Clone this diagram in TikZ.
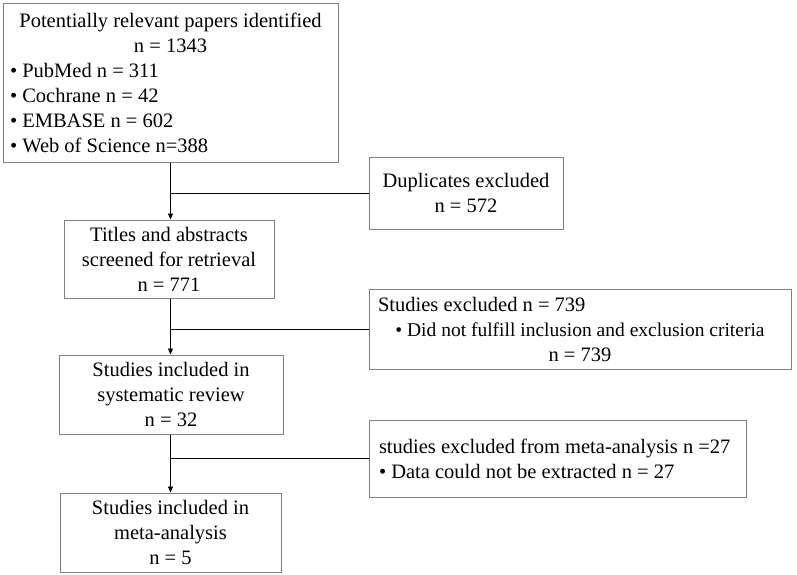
\documentclass[tikz,border=0pt]{standalone}
\usepackage{fontspec}
\setmainfont{Liberation Serif}
\usetikzlibrary{arrows.meta}
\newcommand\lrow[2]{\makebox[#1][l]{#2}}
\tikzset{
  box/.style={draw=gray, line width=1pt, inner sep=0pt, font=\fontsize{20.5}{25}\selectfont, align=center},
  link/.style={line width=0.9pt},
  arr/.style={link, -{Triangle[width=5pt,length=6pt]}}
}
\begin{document}
\begin{tikzpicture}
[x=1pt, y=-1pt]
\useasboundingbox (0,0) rectangle (797,574);
\node [box, minimum width=335pt, minimum height=159pt] (papers) at (170.5,82.5) {Potentially relevant papers identified\\ n = 1343\\ \lrow{321pt}{• PubMed n = 311}\\ \lrow{321pt}{• Cochrane n = 42}\\ \lrow{321pt}{• EMBASE n = 602}\\ \lrow{321pt}{• Web of Science n=388}};
\node [box, minimum width=194pt, minimum height=72pt] (dupes) at (466,193) {Duplicates excluded\\ n = 572};
\node [box, minimum width=210pt, minimum height=78pt] (screened) at (169,259) {Titles and abstracts\\ screened for retrieval\\ n = 771};
\node [box, minimum width=422pt, minimum height=80pt] (excl) at (580,329) {\lrow{404pt}{Studies excluded n = 739}\\ {\fontsize{19.5}{25}\selectfont • Did not fulfill inclusion and exclusion criteria}\\ n = 739};
\node [box, minimum width=224pt, minimum height=79pt] (review) at (171,394.5) {Studies included in\\ systematic review\\ n = 32};
\node [box, minimum width=377pt, minimum height=77pt] (metaexcl) at (557.5,458.5) {\lrow{357pt}{studies excluded from meta-analysis n =27}\\ \lrow{357pt}{• Data could not be extracted n = 27}};
\node [box, minimum width=221pt, minimum height=79pt] (meta) at (170.5,532.5) {Studies included in\\ meta-analysis\\ n = 5};
% main trunk
\draw [arr] (papers.south) -- (papers.south |- screened.north);
\draw [arr] (screened.south -| papers.south) -- (papers.south |- review.north);
\draw [arr] (review.south -| papers.south) -- (papers.south |- meta.north);
% side branches
\draw [link] (papers.south |- dupes.west) -- (dupes.west);
\draw [link] (papers.south |- excl.west) -- (excl.west);
\draw [link] (papers.south |- metaexcl.west) -- (metaexcl.west);
\end{tikzpicture}
\end{document}
